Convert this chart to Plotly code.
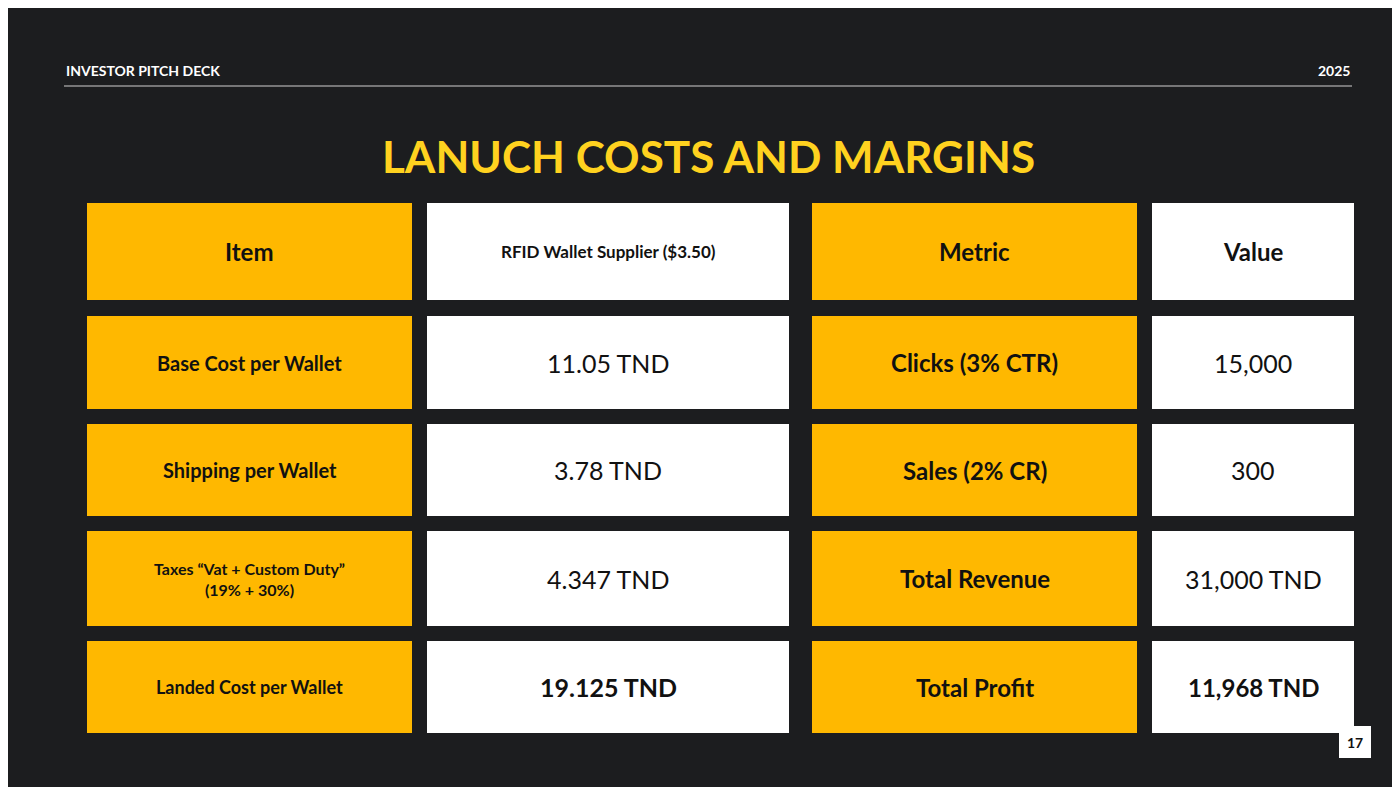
import plotly.graph_objects as go

# slide content
header_left = "INVESTOR PITCH DECK"
header_right = "2025"
title = "LANUCH COSTS AND MARGINS"
page_no = "17"

items = ["Item", "Base Cost per Wallet", "Shipping per Wallet",
         "Taxes “Vat + Custom Duty”<br>(19% + 30%)", "Landed Cost per Wallet"]
item_values = ["RFID Wallet Supplier ($3.50)", "11.05 TND", "3.78 TND", "4.347 TND", "19.125 TND"]
metrics = ["Metric", "Clicks (3% CTR)", "Sales (2% CR)", "Total Revenue", "Total Profit"]
metric_values = ["Value", "15,000", "300", "31,000 TND", "11,968 TND"]

BG = "#1c1d1f"
ORANGE = "#ffb800"
YELLOW = "#ffd21f"
FONT = "Lato"

col_x = [(79, 404), (419, 781), (804, 1129), (1144, 1346)]
row_y = [(195, 292), (308, 401), (416, 508), (523, 618), (633, 725)]

fig = go.Figure()
shapes = []
annotations = []


def cell(x0, x1, y0, y1, fill, text, size, bold):
    shapes.append(dict(type="rect", x0=x0, x1=x1, y0=y0, y1=y1,
                       fillcolor=fill, line=dict(width=0), layer="below"))
    t = f"<b>{text}</b>" if bold else text
    annotations.append(dict(x=(x0 + x1) / 2, y=(y0 + y1) / 2, text=t, showarrow=False,
                            font=dict(family=FONT, size=size, color="#111111"),
                            xanchor="center", yanchor="middle"))


for i in range(len(items)):
    y0, y1 = row_y[i]
    small = i == 0 or i >= 3
    cell(*col_x[0], y0, y1, ORANGE, items[i], 24 if i == 0 else (16 if i == 3 else (18 if i == 4 else 20)), True)
    cell(*col_x[1], y0, y1, "white", item_values[i], 17 if i == 0 else 25, i in (0, 4))
    cell(*col_x[2], y0, y1, ORANGE, metrics[i], 24 if i in (0, 3, 4) else 24, True)
    cell(*col_x[3], y0, y1, "white", metric_values[i], 24 if i in (0, 4) else 25, i in (0, 4))

# header
annotations += [
    dict(x=56, y=62, text=f"<b>{header_left}</b>", showarrow=False, xanchor="left",
         font=dict(family=FONT, size=14, color="white")),
    dict(x=1344, y=62, text=f"<b>{header_right}</b>", showarrow=False, xanchor="right",
         font=dict(family=FONT, size=14, color="white")),
    dict(x=700, y=148, text=f"<b>{title}</b>", showarrow=False,
         font=dict(family=FONT, size=44, color=YELLOW)),
    dict(x=1347, y=734, text=f"<b>{page_no}</b>", showarrow=False,
         font=dict(family=FONT, size=14, color="#111111")),
]
shapes.append(dict(type="line", x0=56, x1=1344, y0=78, y1=78, line=dict(color="#d0d0d0", width=1)))
shapes.append(dict(type="rect", x0=1331, x1=1363, y0=718, y1=750, fillcolor="white",
                   line=dict(width=0), layer="below"))

fig.update_layout(
    width=1400, height=787, margin=dict(l=0, r=0, t=0, b=0),
    paper_bgcolor=BG, plot_bgcolor=BG,
    xaxis=dict(range=[0, 1400], visible=False, fixedrange=True),
    yaxis=dict(range=[787, 0], visible=False, fixedrange=True),
    shapes=shapes, annotations=annotations, showlegend=False,
)

fig.write_html("out.html")
